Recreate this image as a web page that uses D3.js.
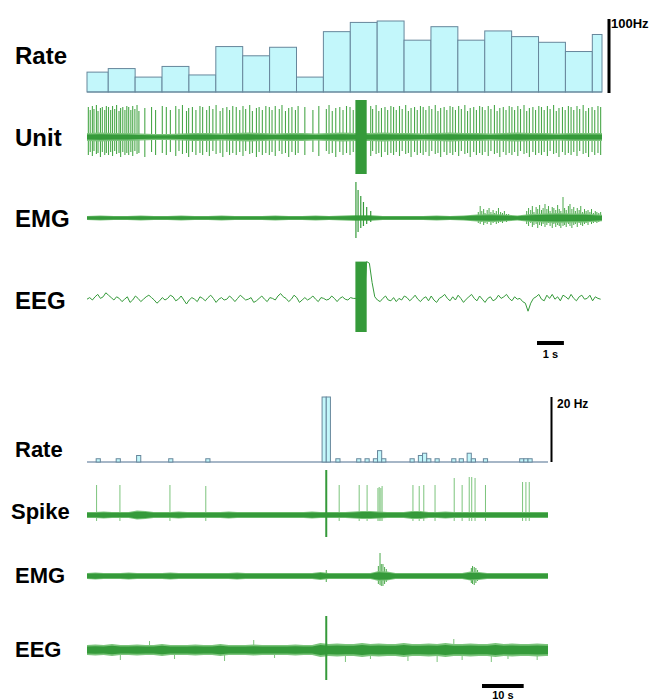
<!DOCTYPE html>
<html><head><meta charset="utf-8">
<script src="https://cdn.jsdelivr.net/npm/d3@7"></script>
<style>body{margin:0;background:#fff}svg{display:block}text{font-family:"Liberation Sans",Arial,sans-serif;font-weight:bold;fill:#000}</style>
</head><body><svg id="c" width="652" height="700"></svg>
<script>
// ================= DATA =================
// --- top recording (seconds) ---
const topLabels = ["Rate", "Unit", "EMG", "EEG"];
const topDuration = 19.15;
const rateTopEdges = [0,0.79,1.79,2.79,3.79,4.79,5.79,6.79,7.79,8.79,9.79,10.79,11.79,12.79,13.79,14.79,15.79,16.79,17.79,18.79,19.15];
const rateTopHz = [28,33,21,36,24,64,51,63,21,85,98,100,73,92,73,86,78,70,57,81];
const rateTopScaleHz = 100;

const unitSpikeT = [0.05,0.12,0.2,0.26,0.35,0.41,0.5,0.57,0.66,0.72,0.8,0.88,0.95,1.03,1.1,1.19,1.25,1.33,1.41,1.48,1.55,1.63,1.7,1.78,1.86,1.93,
 2.15,2.4,2.55,2.8,2.95,3.1,
 3.3,3.42,3.55,3.7,3.78,3.92,4.05,4.2,4.3,4.45,4.55,4.68,4.8,4.95,5.05,5.2,5.3,5.42,5.55,5.68,5.8,5.9,6.05,6.15,6.3,6.4,6.52,6.65,6.78,6.88,7.0,7.15,7.25,7.38,7.5,7.62,7.75,7.85,8.1,8.4,8.62,8.9,9.0,9.12,9.25,9.4,9.52,9.65,9.78,9.9,
 10.55,10.62,10.75,10.85,10.95,11.08,11.18,11.3,11.4,11.5,11.62,11.72,11.85,11.95,12.05,12.18,12.28,12.4,12.5,12.6,12.72,12.82,12.95,13.05,13.15,13.28,13.38,13.5,13.6,13.7,13.82,13.92,14.05,14.15,14.25,14.38,14.48,14.6,14.7,14.8,14.92,15.02,15.15,15.25,15.35,15.48,15.58,15.7,15.8,15.9,16.02,16.12,16.25,16.35,16.45,16.58,16.68,16.8,16.9,17.0,17.12,17.22,17.35,17.45,17.55,17.68,17.78,17.9,18.0,18.1,18.22,18.32,18.45,18.55,18.65,18.78,18.88,19.0,19.1];
const unitSpikeUp = [30,27,31,28,32,26,29,30,27,31];     // µV, cycled over spikes
const unitSpikeDown = [18,15,19,14,17,16,20,15,18,16];
const unitNoiseEnv = [4,4.5,4,4,3.5,3,3,3.5,4,4,3.5,4,4.5,4,3.5,4,4,3.5,4,4.5,4,4,4.5,4,4,3.5,4,4.5,4,4,3.5,4,4.5,4,4,3.5,4,4,4,4]; // every 0.5 s
const unitArtifact = {t0: 9.98, t1: 10.4, hi: 37, lo: -37};

const emgTopEnv = [2,2.5,2,2,2.5,2,2,2.5,2,2,2.5,2,2,2,2.5,2,2,2.5,2,2.5,3,3,2,2,2,2,2.5,2,2.5,3.5,4,3.5,2.5,4,4.5,5,4.5,4.5,3.5,3]; // every 0.5 s
const emgArtPeakT    = [10.0,10.08,10.18,10.28,10.4,10.55];
const emgArtPeakUp   = [36,28,22,16,11,7];
const emgArtPeakDown = [20,14,10,8,6,4];
const emgBurst1T    = [14.55,14.62,14.68,14.75,14.8,14.88,14.95,15.02,15.1,15.16,15.22,15.3,15.38,15.45,15.52,15.6,15.68];
const emgBurst1Up   = [6,12,7,9,5,8,10,6,8,5,7,10,6,5,7,4,4];
const emgBurst1Down = [5,6,4,7,5,6,4,7,5,4,6,5,4,5,3,4,3];
const emgBurst2T    = [16.35,16.42,16.5,16.56,16.62,16.7,16.76,16.83,16.9,16.96,17.03,17.1,17.16,17.22,17.3,17.36,17.43,17.5,17.56,17.62,17.7,17.76,17.82,17.9,17.96,18.03,18.1,18.16,18.23,18.3,18.36,18.43,18.5,18.56,18.63,18.7,18.76,18.83,18.9,18.96,19.03,19.1];
const emgBurst2Up   = [7,10,8,12,6,11,9,13,8,10,14,9,12,7,11,10,8,13,9,7,21,10,8,12,14,9,11,7,10,8,12,6,9,7,8,6,9,5,7,6,5,6];
const emgBurst2Down = [6,8,5,9,7,6,10,7,8,6,9,7,5,8,10,6,9,7,8,10,8,7,9,6,8,10,7,6,9,5,7,8,6,5,7,4,6,5,4,5,4,3];

const eegTopStep = 0.1;
const eegTop = [
 0.5,1.5,0,2,3.5,1,2,4.5,3,1.5, 0,2,1,-1,0.5,2,-1.5,0,2.5,1, -1,0.5,2,3,1.5,0,-2,-0.5,1.5,0,
 1,3,2,-0.5,0.5,2.5,0,-2.5,0,1.5, 0.5,-1,2,1,-0.5,1.5,3,1,-1.5,0.5, 1.5,0,0.5,2.5,1,-1,1,3,1.5,0,
 0.5,1.5,-1.5,-0.5,1,2.5,0.5,-1,1.5,1, 0,2.5,4,2,1,-1,0.5,3,1.5,-1.5, 0,1.5,0,1,2.5,0.5,-1,1.5,1,0,
 0.5,2.5,1,-1,1,2,0.5,0,1.5,1,
 1,-2,2,-1,24,
 23,11,2,0,-1,1,2.5,0,-0.5,1.5, -1,1,0,2.5,1.5,-0.5,1,3,0.5,-1, 1,2,-0.5,2.5,0,-1.5,1,2,3.5,1,
 -0.5,2,0,3,1,-1.5,0.5,2,3.5,1, -0.5,2.5,0.5,-1.5,1,2,-0.5,0.5,3,1, 2,3.5,1,-0.5,2,0.5,1,-1,-2,-7,
 -2,1,2,3.5,0.5,-0.5,3,1,3.5,0.5, 2,-0.5,3,2,0.5,3.5,1,-0.5,2,3, 0.5,1,3,-0.5,2,1,0.5];
const eegTopArtifact = {t0: 9.98, t1: 10.4, hi: 24, lo: -20};
const topScaleBarSec = 1;

// --- bottom recording (seconds) ---
const botLabels = ["Rate", "Spike", "EMG", "EEG"];
const botDuration = 110.6;
const rateBotStart = [2.2,7.0,11.9,19.6,28.5,56.4,57.4,59.7,64.7,66.7,68.7,69.7,70.7,77.5,79.5,80.5,81.5,83.5,87.5,89.3,91.2,92.2,95.1,103.8,104.8,105.8];
const rateBotHz    = [1,1,2,1,1,20,20,1,1,1,1,3.5,1,1,2,2.7,1,1,1,1,2.7,1,1,1,1,1];
const rateBotScaleHz = 20;

const spikeBotT  = [2.3,7.9,19.9,28.5,60.5,65.3,67.2,69.8,70.1,70.5,70.8,78.2,79.7,80.8,83.5,88.1,90.0,91.7,92.3,93.1,95.6,104.5,105.3,106.1];
const spikeBotUp = [30,30,30,29,30,30,30,27,28,27,29,30,29,30,30,37,30,38,38,37,30,33,33,33];
const spikeBotEnv = [3,3,3.5,3,3,3,4.5,4,3,3,3,3.5,3,3,3,3,3,3.5,3,3,3,3,3,3,3,3,3,3.5,3,3,3,3,3.5,4,4,3.5,3,3,3,4,4,3,3,3.5,3,3,3,3,3,3,3,3,3,3,3,3,3]; // every 2 s
const botArtifactT = 57.4;
const spikeArtifact = {up: 45, down: 22};

const emgBotEnv = [3,3.5,3,3,3,3.5,3,3,3,3,3.5,3,3,3,3,3,3,3,3.5,3,3,3,3,3,3,3,3,3,4,3,3,3,3,3,3,5,4.5,3,3,3,3,3,3,3,3,3,4.5,4,3,3,3,3,3,3,3,3,3]; // every 2 s
const emgBotPeakT    = [57.4,69.9,70.3,70.6,71.0,71.4,71.8,92.2,92.5,92.9,93.3,93.7];
const emgBotPeakUp   = [6,10,23,12,12,9,7,8,10,9,8,6];
const emgBotPeakDown = [6,8,9,10,10,8,6,7,8,9,7,5];

const eegBotEnv = [5,5.5,5,6,5,5,5.5,5,5,6,5,5,5,5.5,5,5,6,5,5,5,5.5,5,5,5,5,5.5,5,5,7,6,6.5,6,6,7,6,6.5,6,6,7,6,6,6.5,6,7,6,6,6.5,6,6,7,6,6.5,6,6,6.5,6,6]; // every 2 s
const eegBotPeakT    = [8,15,21,33,40,45,62,68,77,84,88,90,97,101,108];
const eegBotPeakUp   = [3,9,3,3,10,3,3,3,3,3,11,3,3,3,3];
const eegBotPeakDown = [10,3,9,11,3,8,12,9,11,12,3,10,12,9,10];
const eegArtifact = {up: 34, down: 30};
const botScaleBarSec = 10;

// ================= DRAW =================
const svg = d3.select("#c");
const GREEN = "#359a3a", SPIKE = "#4aa84a", LIGHT = "#7cc47c";
const FILL = "#c3f7fb", EDGE = "#67879c";

const xT = d3.scaleLinear().domain([0, topDuration]).range([87, 602]);
const xB = d3.scaleLinear().domain([0, botDuration]).range([87, 548]);
const chan = (c, h) => d3.scaleLinear().domain([-h, h]).range([c + h, c - h]);
const yRateT = d3.scaleLinear().domain([0, rateTopScaleHz]).range([92, 21]);
const yUnit = chan(137, 40), yEmgT = chan(218, 40);
const yEegT = d3.scaleLinear().domain([-25, 25]).range([340, 260]);
const yRateB = d3.scaleLinear().domain([0, rateBotScaleHz]).range([462, 397]);
const ySpk = chan(515, 50), yEmgB = chan(576, 40), yEegB = chan(650, 40);

const defs = svg.append("defs");
defs.append("clipPath").attr("id","clipT").append("rect").attr("x",87).attr("y",0).attr("width",515).attr("height",340);
defs.append("clipPath").attr("id","clipB").append("rect").attr("x",87).attr("y",380).attr("width",461).attr("height",320);
const gT = svg.append("g").attr("clip-path","url(#clipT)");
const gB = svg.append("g").attr("clip-path","url(#clipB)");

function band(g, env, step, x, y, outer, inner, frac) {
  const pts = env.map((v, i) => ({t: i * step, v}));
  g.append("path").datum(pts)
    .attr("d", d3.area().x(d => x(d.t)).y0(d => y(-d.v)).y1(d => y(d.v)))
    .attr("fill", outer);
  g.append("path").datum(pts)
    .attr("d", d3.area().x(d => x(d.t)).y0(d => y(-d.v * frac)).y1(d => y(d.v * frac)))
    .attr("fill", inner);
}
function peaks(g, ts, ups, downs, x, y, color, w) {
  g.append("g").selectAll("line").data(ts).join("line")
    .attr("x1", d => x(d)).attr("x2", d => x(d))
    .attr("y1", (d, i) => y(ups[i])).attr("y2", (d, i) => y(-downs[i]))
    .attr("stroke", color).attr("stroke-width", w);
}

// ---- top: rate histogram ----
const binsT = rateTopHz.map((v, i) => ({a: rateTopEdges[i], b: rateTopEdges[i + 1], v}));
svg.append("g").selectAll("rect").data(binsT).join("rect")
  .attr("x", d => xT(d.a)).attr("width", d => xT(d.b) - xT(d.a))
  .attr("y", d => yRateT(d.v)).attr("height", d => yRateT(0) - yRateT(d.v))
  .attr("fill", FILL).attr("stroke", EDGE).attr("stroke-width", 1);
svg.append("line").attr("x1", xT(0)).attr("x2", xT(topDuration)).attr("y1", yRateT(0)).attr("y2", yRateT(0))
  .attr("stroke", EDGE).attr("stroke-width", 1.2);
svg.append("rect").attr("x", 607.5).attr("width", 3).attr("y", yRateT(rateTopScaleHz) - 2)
  .attr("height", yRateT(0) - yRateT(rateTopScaleHz) + 3).attr("fill", "#000");
svg.append("text").attr("x", 611).attr("y", 28).attr("font-size", 13).text(rateTopScaleHz + "Hz");

// ---- top: unit ----
peaks(gT, unitSpikeT, unitSpikeT.map((d, i) => unitSpikeUp[i % unitSpikeUp.length]),
      unitSpikeT.map((d, i) => unitSpikeDown[i % unitSpikeDown.length]), xT, yUnit, SPIKE, 1.1);
band(gT, unitNoiseEnv, 0.5, xT, yUnit, LIGHT, GREEN, 0.6);
gT.append("rect").attr("x", xT(unitArtifact.t0)).attr("width", xT(unitArtifact.t1) - xT(unitArtifact.t0))
  .attr("y", yUnit(unitArtifact.hi)).attr("height", yUnit(unitArtifact.lo) - yUnit(unitArtifact.hi)).attr("fill", GREEN);

// ---- top: EMG ----
peaks(gT, emgBurst1T, emgBurst1Up, emgBurst1Down, xT, yEmgT, SPIKE, 1);
peaks(gT, emgBurst2T, emgBurst2Up, emgBurst2Down, xT, yEmgT, SPIKE, 1);
band(gT, emgTopEnv, 0.5, xT, yEmgT, LIGHT, GREEN, 0.7);
peaks(gT, emgArtPeakT, emgArtPeakUp, emgArtPeakDown, xT, yEmgT, GREEN, 1.2);

// ---- top: EEG ----
gT.append("path").datum(eegTop)
  .attr("d", d3.line().x((d, i) => xT(i * eegTopStep)).y(d => yEegT(d)))
  .attr("fill", "none").attr("stroke", GREEN).attr("stroke-width", 1);
gT.append("rect").attr("x", xT(eegTopArtifact.t0)).attr("width", xT(eegTopArtifact.t1) - xT(eegTopArtifact.t0))
  .attr("y", yEegT(eegTopArtifact.hi)).attr("height", yEegT(eegTopArtifact.lo) - yEegT(eegTopArtifact.hi)).attr("fill", GREEN);

// top time scale bar
const w1 = xT(topScaleBarSec) - xT(0);
svg.append("rect").attr("x", 537).attr("width", w1).attr("y", 341).attr("height", 4).attr("fill", "#000");
svg.append("text").attr("x", 537 + w1 / 2).attr("y", 358).attr("text-anchor", "middle").attr("font-size", 11).text(topScaleBarSec + " s");

// ---- bottom: rate ----
svg.append("line").attr("x1", xB(0)).attr("x2", xB(botDuration)).attr("y1", yRateB(0)).attr("y2", yRateB(0))
  .attr("stroke", "#4e6f90").attr("stroke-width", 1.2);
const binsB = rateBotStart.map((t, i) => ({t, v: rateBotHz[i]}));
svg.append("g").selectAll("rect").data(binsB).join("rect")
  .attr("x", d => xB(d.t)).attr("width", d => xB(d.t + 1) - xB(d.t))
  .attr("y", d => yRateB(d.v)).attr("height", d => yRateB(0) - yRateB(d.v))
  .attr("fill", FILL).attr("stroke", EDGE).attr("stroke-width", 1);
svg.append("rect").attr("x", 550.5).attr("width", 2).attr("y", yRateB(rateBotScaleHz))
  .attr("height", yRateB(0) - yRateB(rateBotScaleHz)).attr("fill", "#000");
svg.append("text").attr("x", 557).attr("y", 408).attr("font-size", 12).text(rateBotScaleHz + " Hz");

// ---- bottom: spike ----
peaks(gB, spikeBotT, spikeBotUp, spikeBotT.map(() => 6), xB, ySpk, LIGHT, 1);
band(gB, spikeBotEnv, 2, xB, ySpk, LIGHT, GREEN, 0.75);
peaks(gB, [botArtifactT], [spikeArtifact.up], [spikeArtifact.down], xB, ySpk, GREEN, 2);

// ---- bottom: EMG ----
peaks(gB, emgBotPeakT, emgBotPeakUp, emgBotPeakDown, xB, yEmgB, SPIKE, 1);
band(gB, emgBotEnv, 2, xB, yEmgB, LIGHT, GREEN, 0.75);

// ---- bottom: EEG ----
peaks(gB, eegBotPeakT, eegBotPeakUp, eegBotPeakDown, xB, yEegB, LIGHT, 1);
band(gB, eegBotEnv, 2, xB, yEegB, LIGHT, GREEN, 0.7);
peaks(gB, [botArtifactT], [eegArtifact.up], [eegArtifact.down], xB, yEegB, GREEN, 2);

// bottom time scale bar
const w10 = xB(botScaleBarSec) - xB(0);
svg.append("rect").attr("x", 482).attr("width", w10).attr("y", 684).attr("height", 4).attr("fill", "#000");
svg.append("text").attr("x", 482 + w10 / 2).attr("y", 699).attr("text-anchor", "middle").attr("font-size", 11).text(botScaleBarSec + " s");

// ---- labels ----
const topY = [63.5, 145.5, 226.5, 308.5];
svg.append("g").selectAll("text").data(topLabels).join("text")
  .attr("x", 15).attr("y", (d, i) => topY[i]).attr("font-size", 24).text(d => d);
const botY = [456.5, 518.5, 582.5, 656.5];
svg.append("g").selectAll("text").data(botLabels).join("text")
  .attr("x", (d, i) => i === 1 ? 11 : 15).attr("y", (d, i) => botY[i]).attr("font-size", 22).text(d => d);
</script></body></html>
